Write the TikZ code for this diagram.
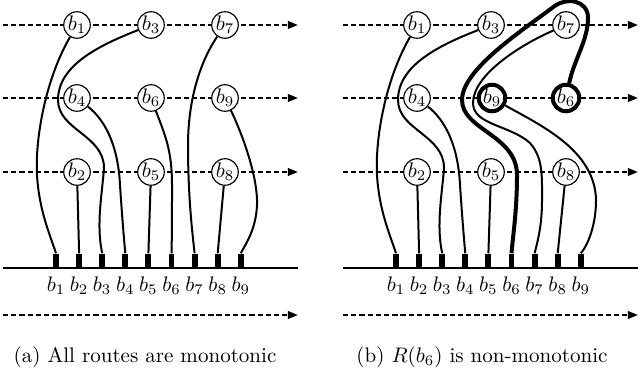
\documentclass[tikz,border=0pt]{standalone}
\usetikzlibrary{positioning,arrows.meta}

\begin{document}
\begin{tikzpicture}[x=0.475pt, y=-0.475pt,
    >={Triangle[length=4.8pt,width=3.6pt]},
    track/.style={->, line width=0.95pt, dash pattern=on 2.5pt off 1.4pt},
    bag/.style={draw, circle, fill=white, line width=0.55pt, minimum size=12.6pt, inner sep=0pt},
    hotbag/.style={bag, line width=1.9pt},
    route/.style={line width=0.95pt},
    hotroute/.style={line width=1.9pt},
    pinbox/.style={fill=black, minimum width=2.8pt, minimum height=6.6pt, inner sep=0pt, anchor=south}]
  \useasboundingbox (0,0) rectangle (639,378);

  % (a) left panel
  \begin{scope}
    \foreach \y in {25,98,172,315} \draw[track] (3,\y) -- (298,\y);
    \draw[line width=0.7pt] (3,268) -- (298,268);
    \foreach \i in {1,...,9} {
      \node[pinbox] (ap\i) at ({56+23.1*(\i-1)},268) {};
      \node (al\i) at ({56+23.1*(\i-1)},286) {$b_{\i}$};
    }
    \node[bag] (a1) at (77,25) {$b_1$};
    \node[bag] (a3) at (151,25) {$b_3$};
    \node[bag] (a7) at (225,25) {$b_7$};
    \node[bag] (a4) at (77,98) {$b_4$};
    \node[bag] (a6) at (151,98) {$b_6$};
    \node[bag] (a9) at (225,98) {$b_9$};
    \node[bag] (a2) at (77,172) {$b_2$};
    \node[bag] (a5) at (151,172) {$b_5$};
    \node[bag] (a8) at (225,172) {$b_8$};
    \draw[route] (a1) .. controls (45,80) and (35,140) .. (37,175) .. controls (39,210) and (50,235) .. (ap1.north);
    \draw[route] (a3) .. controls (100,45) and (58,65) .. (58,100) .. controls (58,130) and (104,135) .. (104,168) .. controls (102,195) and (96,225) .. (ap3.north);
    \draw[route] (a4) .. controls (105,120) and (118,145) .. (120,185) .. controls (122,215) and (124,240) .. (ap4.north);
    \draw[route] (a6) .. controls (165,135) and (172,150) .. (172,185) .. controls (172,210) and (172,235) .. (ap6.north);
    \draw[route] (a7) .. controls (200,62) and (188,100) .. (188,145) .. controls (188,195) and (192,230) .. (ap7.north);
    \draw[route] (a9) .. controls (245,140) and (258,180) .. (257,205) .. controls (256,230) and (245,245) .. (ap9.north);
    \draw[route] (a2) -- (ap2.north);
    \draw[route] (a5) -- (ap5.north);
    \draw[route] (a8) -- (ap8.north);
    \node (capa) at (145,357) {(a) All routes are monotonic};
  \end{scope}

  % (b) right panel
  \begin{scope}[shift={(340,0)}]
    \foreach \y in {25,98,172,315} \draw[track] (3,\y) -- (298,\y);
    \draw[line width=0.7pt] (3,268) -- (298,268);
    \foreach \i in {1,...,9} {
      \node[pinbox] (cp\i) at ({56+23.1*(\i-1)},268) {};
      \node (cl\i) at ({56+23.1*(\i-1)},286) {$b_{\i}$};
    }
    \node[bag] (c1) at (77,25) {$b_1$};
    \node[bag] (c3) at (151,25) {$b_3$};
    \node[bag] (c7) at (226,25) {$b_7$};
    \node[bag] (c4) at (77,98) {$b_4$};
    \node[hotbag] (c9) at (152,98) {$b_9$};
    \node[hotbag] (c6) at (226,98) {$b_6$};
    \node[bag] (c2) at (77,172) {$b_2$};
    \node[bag] (c5) at (151,172) {$b_5$};
    \node[bag] (c8) at (226,172) {$b_8$};
    \draw[route] (c1) .. controls (45,80) and (35,140) .. (37,175) .. controls (39,210) and (50,235) .. (cp1.north);
    \draw[route] (c3) .. controls (100,45) and (58,65) .. (58,100) .. controls (58,130) and (104,135) .. (104,168) .. controls (102,195) and (96,225) .. (cp3.north);
    \draw[route] (c4) .. controls (105,120) and (118,145) .. (120,185) .. controls (122,215) and (124,240) .. (cp4.north);
    \draw[route] (c7) .. controls (180,45) and (133,75) .. (133,103) .. controls (133,125) and (170,125) .. (190,143) .. controls (203,158) and (202,175) .. (202,200) .. controls (202,225) and (198,240) .. (cp7.north);
    \draw[route] (c9) .. controls (200,125) and (255,150) .. (256,200) .. controls (256,225) and (248,245) .. (cp9.north);
    \draw[hotroute] (c6) .. controls (234,60) and (248,40) .. (248,18) .. controls (248,0) and (226,-4) .. (212,8) .. controls (180,32) and (122,70) .. (122,100) .. controls (122,130) and (177,135) .. (177,175) .. controls (177,210) and (173,235) .. (cp6.north);
    \draw[route] (c2) -- (cp2.north);
    \draw[route] (c5) -- (cp5.north);
    \draw[route] (c8) -- (cp8.north);
    \node (capb) at (142,357) {(b) $R(b_6)$ is non-monotonic};
  \end{scope}
\end{tikzpicture}
\end{document}
